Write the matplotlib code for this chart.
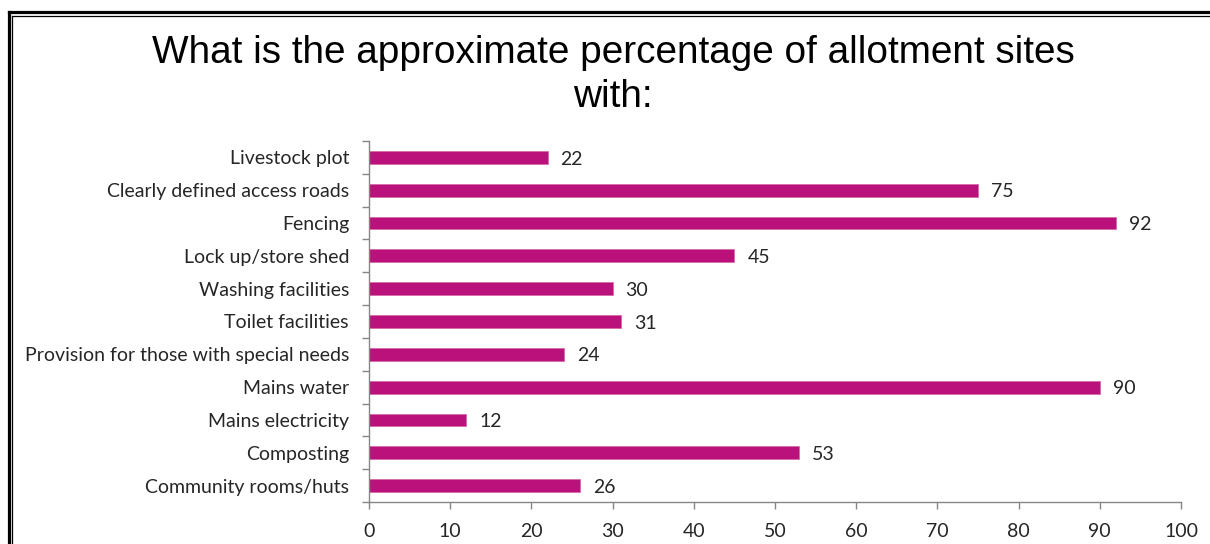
import matplotlib
matplotlib.use("Agg")
import matplotlib.pyplot as plt
from matplotlib.lines import Line2D

categories = ["Livestock plot", "Clearly defined access roads", "Fencing",
              "Lock up/store shed", "Washing facilities", "Toilet facilities",
              "Provision for those with special needs", "Mains water",
              "Mains electricity", "Composting", "Community rooms/huts"]
values = [22, 75, 92, 45, 30, 31, 24, 90, 12, 53, 26]
xticks = [0, 10, 20, 30, 40, 50, 60, 70, 80, 90, 100]
title = "What is the approximate percentage of allotment sites\nwith:"

W, H = 1210, 544
fig = plt.figure(figsize=(W / 100, H / 100), dpi=100)
fig.patch.set_facecolor("white")

ax = fig.add_axes([369 / W, 1 - 502 / H, (1181 - 369) / W, (502 - 141) / H])
n = len(categories)
ypos = list(range(n))
ax.barh(ypos, values, height=0.39, color="#BA117B", edgecolor="#D66BAA",
        linewidth=0.6, zorder=2)
ax.set_ylim(n - 0.5, -0.5)
ax.set_xlim(0, 100)

lab_font = "Lato"
txt_col = "#262626"
fs = 14
for y, v in zip(ypos, values):
    ax.text(v + 1.6, y + 0.05, str(v), va="center", ha="left", fontsize=fs,
            family=lab_font, color=txt_col)

ax.set_yticks(ypos)
ax.set_yticklabels(categories, fontsize=fs, family=lab_font, color=txt_col)
ax.set_yticks([i - 0.5 for i in range(n + 1)], minor=True)
ax.tick_params(axis="y", which="major", length=0, pad=14.4)
ax.tick_params(axis="y", which="minor", length=5, color="#868686", width=1)
ax.set_xticks(xticks)
ax.set_xticklabels([str(t) for t in xticks], fontsize=fs, family=lab_font, color=txt_col)
ax.tick_params(axis="x", length=5, color="#868686", width=1, pad=10)

for s in ["top", "right"]:
    ax.spines[s].set_visible(False)
for s in ["left", "bottom"]:
    ax.spines[s].set_color("#868686")
    ax.spines[s].set_linewidth(1)

fig.text(613 / W, 1 - 35 / H, title, ha="center", va="top", fontsize=27.9,
         family="Liberation Sans", color="black", linespacing=1.27)

# double frame
def fx(p):
    return p / W
def fy(p):
    return 1 - p / H
fig.add_artist(Line2D([fx(8.5), fx(8.5)], [fy(11.5), 0], lw=2.3, color="black"))
fig.add_artist(Line2D([fx(8.5), 1], [fy(11.5), fy(11.5)], lw=2.3, color="black"))
fig.add_artist(Line2D([fx(12), fx(12)], [fy(15.5), 0], lw=0.9, color="black"))
fig.add_artist(Line2D([fx(12), 1], [fy(15.5), fy(15.5)], lw=0.9, color="black"))

fig.savefig("out.png", dpi=100)
